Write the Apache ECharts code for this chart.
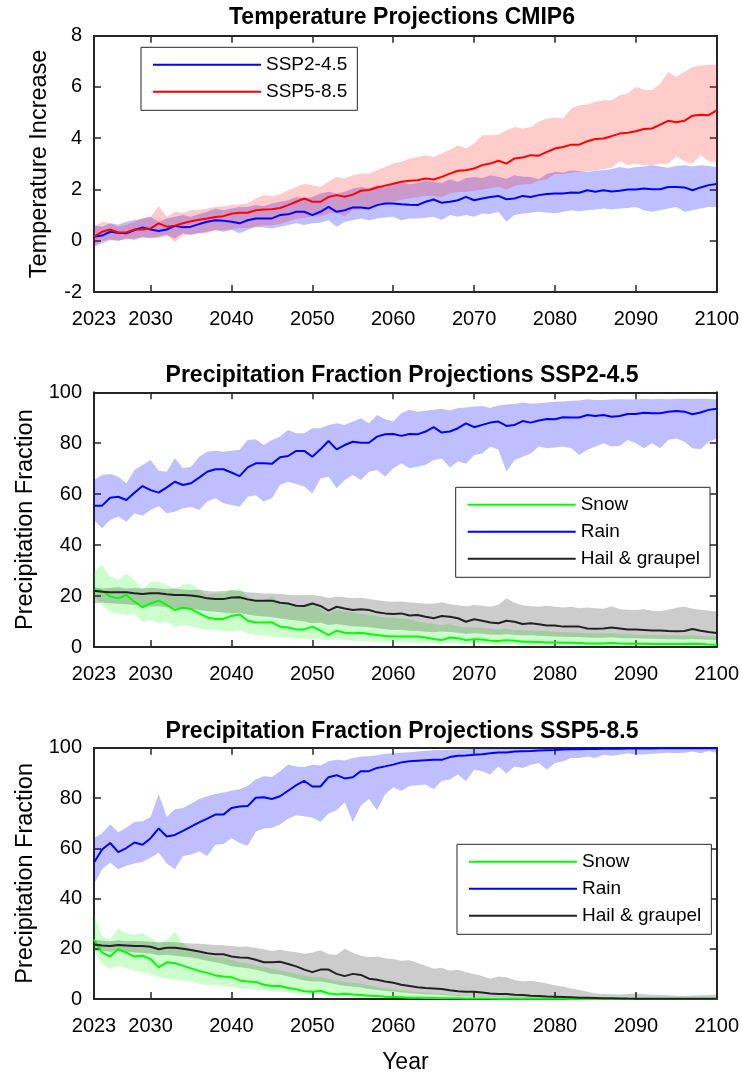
<!DOCTYPE html>
<html>
<head>
<meta charset="utf-8">
<script src="https://cdn.jsdelivr.net/npm/echarts@6/dist/echarts.min.js"></script>
<style>
  html, body { margin: 0; padding: 0; background: #ffffff; }
  #chart { width: 742px; height: 1075px; }
</style>
</head>
<body>
<div id="chart"></div>
<script>
// ---------- categories and tick labels ----------
const years = [];
for (let y = 2023; y <= 2100; y++) years.push(String(y));
const xTickYears = [2023, 2030, 2040, 2050, 2060, 2070, 2080, 2090, 2100];
const tempTicks = [-2, 0, 2, 4, 6, 8];
const fracTicks = [0, 20, 40, 60, 80, 100];

// ---------- Temperature increase (CMIP6 ensemble mean and spread) ----------
const ssp245Mean = [
  0.16, 0.20, 0.35, 0.31, 0.29, 0.42, 0.52, 0.44, 0.38, 0.44,
  0.58, 0.53, 0.55, 0.65, 0.74, 0.80, 0.78, 0.74, 0.68, 0.80,
  0.87, 0.87, 0.87, 1.00, 1.03, 1.13, 1.13, 1.00, 1.13, 1.32,
  1.13, 1.19, 1.30, 1.30, 1.26, 1.39, 1.45, 1.45, 1.42, 1.40,
  1.39, 1.52, 1.61, 1.48, 1.52, 1.58, 1.71, 1.58, 1.65, 1.71,
  1.75, 1.62, 1.65, 1.75, 1.71, 1.78, 1.82, 1.84, 1.84, 1.88,
  1.87, 1.97, 1.91, 1.97, 1.92, 1.95, 2.00, 2.00, 2.04, 2.01,
  2.01, 2.10, 2.10, 2.08, 1.97, 2.08, 2.17, 2.21
];
const ssp245Upper = [
  0.60, 0.55, 0.68, 0.62, 0.74, 0.80, 0.87, 0.94, 0.74, 0.87,
  0.94, 1.00, 0.94, 1.04, 1.13, 1.26, 1.19, 1.26, 1.32, 1.32,
  1.39, 1.35, 1.45, 1.52, 1.58, 1.71, 1.65, 1.71, 1.84, 1.91,
  1.84, 1.91, 2.04, 2.10, 2.04, 2.17, 2.10, 2.23, 2.30, 2.20,
  2.25, 2.35, 2.30, 2.25, 2.40, 2.30, 2.45, 2.49, 2.45, 2.56,
  2.50, 2.42, 2.56, 2.50, 2.49, 2.40, 2.60, 2.69, 2.65, 2.75,
  2.72, 2.68, 2.74, 2.75, 2.80, 2.88, 2.82, 2.88, 2.90, 2.95,
  2.90, 2.85, 2.92, 2.95, 2.90, 2.95, 2.92, 2.88
];
const ssp245Lower = [
  -0.23, -0.10, 0.03, 0.00, 0.09, 0.03, 0.16, 0.09, 0.16, 0.22,
  0.09, 0.29, 0.22, 0.29, 0.35, 0.42, 0.35, 0.42, 0.29, 0.42,
  0.55, 0.52, 0.48, 0.55, 0.61, 0.68, 0.61, 0.68, 0.70, 0.80,
  0.55, 0.74, 0.80, 0.87, 0.80, 0.87, 0.91, 0.94, 0.80, 0.87,
  0.87, 0.90, 0.94, 0.81, 1.00, 0.94, 1.00, 0.94, 1.06, 1.04,
  1.13, 0.74, 1.00, 1.06, 1.09, 1.13, 1.10, 1.06, 1.13, 1.19,
  1.15, 1.19, 1.22, 1.26, 1.22, 1.26, 1.28, 1.32, 1.19, 1.13,
  1.19, 1.26, 1.32, 1.13, 1.19, 1.26, 1.32, 1.32
];
const ssp585Mean = [
  0.16, 0.35, 0.44, 0.32, 0.32, 0.44, 0.44, 0.48, 0.68, 0.55,
  0.59, 0.68, 0.76, 0.82, 0.87, 0.93, 0.96, 1.05, 1.09, 1.09,
  1.19, 1.22, 1.23, 1.28, 1.39, 1.52, 1.65, 1.52, 1.52, 1.71,
  1.78, 1.72, 1.80, 1.95, 1.98, 2.08, 2.15, 2.22, 2.30, 2.34,
  2.36, 2.43, 2.39, 2.49, 2.62, 2.73, 2.75, 2.82, 2.95, 3.01,
  3.12, 3.01, 3.21, 3.25, 3.34, 3.32, 3.47, 3.60, 3.66, 3.75,
  3.75, 3.88, 3.97, 3.99, 4.08, 4.18, 4.21, 4.27, 4.36, 4.38,
  4.53, 4.68, 4.62, 4.68, 4.88, 4.92, 4.90, 5.09
];
const ssp585Upper = [
  0.55, 0.74, 0.68, 0.55, 0.62, 0.74, 0.87, 0.94, 1.35, 0.94,
  1.13, 1.09, 1.20, 1.20, 1.26, 1.32, 1.35, 1.39, 1.42, 1.45,
  1.65, 1.78, 1.75, 1.80, 1.97, 2.10, 2.21, 2.17, 2.10, 2.30,
  2.49, 2.43, 2.56, 2.62, 2.62, 2.75, 2.88, 3.01, 3.08, 3.20,
  3.27, 3.34, 3.27, 3.40, 3.55, 3.73, 3.60, 3.79, 4.12, 4.12,
  4.14, 4.31, 4.44, 4.38, 4.44, 4.64, 4.77, 4.81, 4.77, 5.16,
  5.29, 5.32, 5.42, 5.48, 5.48, 5.68, 5.74, 6.00, 5.90, 5.87,
  6.13, 6.58, 6.39, 6.58, 6.78, 6.84, 6.87, 6.87
];
const ssp585Lower = [
  -0.20, 0.00, 0.05, 0.00, 0.05, 0.10, 0.10, 0.15, 0.10, 0.20,
  -0.05, 0.20, 0.25, 0.30, 0.30, 0.40, 0.40, 0.45, 0.50, 0.50,
  0.55, 0.60, 0.60, 0.65, 0.75, 0.85, 0.90, 0.95, 0.95, 1.05,
  1.10, 0.95, 1.20, 1.25, 1.30, 1.40, 1.45, 1.50, 1.60, 1.65,
  1.70, 1.75, 1.75, 1.70, 1.85, 1.90, 1.90, 1.95, 2.00, 2.05,
  2.10, 2.00, 2.15, 2.20, 2.20, 2.35, 2.40, 2.60, 2.60, 2.65,
  2.70, 2.70, 2.75, 2.80, 2.85, 3.10, 2.95, 3.00, 2.95, 2.95,
  3.00, 3.00, 3.30, 3.10, 3.00, 3.35, 3.10, 3.05
];

// ---------- Precipitation fractions, SSP2-4.5 ----------
const rain245Mean = [
  55.5, 55.5, 58.6, 59.0, 57.7, 60.6, 63.2, 61.6, 60.6, 62.7,
  64.9, 63.6, 64.3, 66.5, 68.8, 69.8, 69.8, 68.5, 67.1, 70.5,
  72.1, 72.1, 71.9, 74.5, 75.0, 77.0, 77.0, 74.7, 77.6, 80.9,
  77.6, 79.3, 80.6, 80.2, 80.2, 82.6, 83.5, 83.6, 82.9, 83.6,
  83.5, 84.6, 86.3, 84.2, 84.6, 85.9, 87.8, 86.3, 87.2, 88.1,
  88.5, 86.8, 87.2, 88.7, 88.1, 88.9, 89.5, 89.4, 90.2, 90.1,
  90.1, 91.1, 90.7, 91.1, 90.4, 90.7, 91.5, 91.5, 92.0, 91.8,
  91.8, 92.4, 92.7, 92.4, 91.4, 92.1, 93.1, 93.5
];
const rain245Upper = [
  65.6, 67.5, 67.9, 66.8, 64.3, 69.5, 71.5, 73.4, 69.2, 68.8,
  74.1, 70.2, 70.8, 74.7, 76.7, 77.1, 76.7, 77.1, 77.4, 81.3,
  81.6, 79.3, 81.3, 82.6, 85.2, 83.9, 83.9, 85.9, 85.9, 87.2,
  87.8, 87.2, 88.5, 89.8, 87.8, 91.1, 89.4, 88.5, 91.8, 93.1,
  92.4, 92.8, 93.1, 93.5, 92.9, 93.8, 94.0, 94.4, 94.6, 93.8,
  94.8, 95.2, 95.4, 96.0, 95.5, 95.7, 96.0, 96.3, 96.4, 96.7,
  96.8, 97.3, 97.0, 97.0, 97.2, 97.3, 97.2, 97.3, 97.4, 97.3,
  97.4, 97.3, 97.4, 97.5, 97.4, 97.5, 97.4, 97.3
];
const rain245Lower = [
  49.9, 46.6, 49.9, 51.2, 49.2, 52.5, 51.5, 53.8, 55.4, 52.5,
  53.1, 54.5, 55.1, 53.8, 57.1, 58.4, 56.4, 55.8, 55.1, 59.0,
  59.6, 57.1, 58.4, 63.6, 64.9, 64.0, 63.0, 60.3, 66.2, 66.8,
  62.3, 65.6, 67.5, 65.6, 68.8, 69.5, 66.9, 70.2, 72.1, 70.2,
  70.8, 71.5, 73.4, 74.0, 70.5, 72.8, 71.9, 75.4, 76.0, 78.7,
  77.4, 68.8, 73.4, 74.7, 76.0, 78.7, 78.0, 78.3, 78.7, 78.0,
  75.4, 77.4, 78.7, 80.0, 78.7, 79.0, 81.3, 80.0, 78.0, 80.0,
  78.0, 81.3, 81.9, 80.6, 78.0, 77.6, 80.6, 81.9
];
const snow245Mean = [
  22.4, 22.1, 19.8, 19.1, 20.4, 17.8, 15.6, 17.1, 18.2, 16.5,
  14.5, 15.4, 14.9, 13.2, 11.6, 11.0, 11.0, 12.2, 12.8, 10.3,
  9.6, 9.6, 9.7, 8.0, 7.7, 6.9, 6.9, 8.0, 6.4, 4.7,
  6.4, 5.6, 5.4, 5.6, 5.1, 4.7, 4.3, 4.1, 4.1, 4.1,
  4.1, 3.7, 3.1, 2.7, 3.7, 3.4, 2.7, 3.0, 2.9, 2.5,
  2.4, 2.7, 2.5, 2.1, 2.1, 2.0, 1.8, 1.8, 1.7, 1.7,
  1.6, 1.4, 1.4, 1.4, 1.6, 1.4, 1.3, 1.3, 1.3, 1.2,
  1.2, 1.2, 1.2, 1.2, 1.3, 1.2, 1.0, 0.9
];
const snow245Upper = [
  29.6, 32.2, 27.6, 26.3, 28.9, 26.3, 22.6, 25.7, 25.7, 24.3,
  23.0, 24.3, 25.0, 22.4, 20.4, 21.1, 21.1, 22.4, 23.0, 19.8,
  18.5, 18.5, 19.8, 17.8, 16.9, 15.8, 15.8, 16.5, 15.2, 13.2,
  14.5, 13.9, 13.5, 13.2, 12.6, 12.2, 11.6, 11.6, 11.2, 11.0,
  10.0, 9.6, 9.0, 8.6, 9.0, 8.0, 7.8, 7.7, 7.6, 7.3,
  6.9, 7.3, 6.7, 6.6, 6.5, 6.4, 6.2, 6.0, 5.9, 5.8,
  5.6, 5.5, 5.4, 5.3, 5.4, 5.1, 5.0, 4.8, 4.8, 4.7,
  4.7, 4.6, 4.6, 4.5, 4.6, 4.3, 4.2, 4.1
];
const snow245Lower = [
  19.8, 16.5, 13.9, 13.2, 12.6, 13.2, 9.9, 10.6, 9.3, 9.9,
  8.0, 8.6, 8.0, 7.3, 6.7, 6.9, 6.4, 6.0, 6.7, 5.4,
  4.7, 4.7, 4.1, 3.9, 3.7, 3.4, 3.3, 3.1, 3.0, 2.6,
  2.9, 2.7, 2.5, 2.4, 2.3, 2.1, 2.0, 1.8, 1.8, 1.7,
  1.6, 1.5, 1.4, 1.4, 1.4, 1.3, 1.2, 1.2, 1.1, 1.1,
  1.0, 1.0, 1.0, 0.9, 0.9, 0.9, 0.9, 0.9, 0.8, 0.8,
  0.8, 0.8, 0.8, 0.7, 0.7, 0.7, 0.7, 0.7, 0.6, 0.6,
  0.6, 0.6, 0.6, 0.5, 0.5, 0.5, 0.5, 0.5
];
const hail245Mean = [
  22.1, 21.7, 21.5, 21.5, 21.5, 21.1, 20.8, 21.1, 21.1, 20.7,
  20.4, 20.4, 20.2, 19.8, 19.1, 18.8, 18.8, 19.4, 19.5, 18.7,
  18.2, 18.2, 18.2, 17.4, 17.1, 16.2, 16.1, 17.1, 16.1, 14.3,
  15.8, 15.1, 14.5, 14.8, 14.5, 13.6, 13.2, 13.0, 13.2, 12.4,
  12.6, 11.9, 11.3, 12.2, 11.9, 11.3, 9.9, 10.9, 10.3, 9.6,
  9.3, 10.3, 9.9, 9.0, 9.3, 8.9, 8.4, 8.4, 8.0, 8.0,
  8.0, 7.3, 7.2, 7.3, 7.7, 7.3, 6.9, 6.9, 6.7, 6.5,
  6.5, 6.3, 6.2, 6.3, 7.1, 6.4, 5.9, 5.5
];
const hail245Upper = [
  23.5, 23.0, 23.2, 23.5, 23.0, 23.2, 23.0, 23.3, 23.0, 22.8,
  23.0, 22.6, 22.4, 22.6, 22.0, 21.8, 22.0, 22.3, 22.0, 21.5,
  21.3, 21.0, 21.0, 20.8, 20.5, 20.3, 20.4, 20.4, 20.0, 19.2,
  19.8, 19.5, 19.1, 19.3, 18.8, 18.4, 18.0, 17.8, 17.9, 17.5,
  17.3, 17.0, 17.1, 17.6, 16.8, 16.4, 16.0, 16.5, 16.2, 15.8,
  16.6, 19.1, 17.4, 16.4, 16.0, 15.8, 16.2, 15.8, 15.5, 15.8,
  15.2, 15.5, 15.2, 15.0, 16.0, 14.8, 14.6, 14.5, 14.8, 14.2,
  14.0, 14.6, 15.4, 15.8, 15.0, 14.6, 14.2, 13.9
];
const hail245Lower = [
  17.1, 17.5, 17.2, 17.0, 16.8, 16.5, 16.2, 15.8, 16.0, 15.6,
  15.3, 15.0, 14.8, 14.5, 14.0, 13.8, 13.5, 13.2, 13.4, 12.8,
  12.3, 12.0, 11.8, 11.2, 10.8, 10.4, 10.0, 9.3, 9.6, 8.6,
  9.0, 8.5, 8.1, 8.0, 7.8, 7.4, 7.0, 6.7, 6.8, 6.4,
  6.3, 6.0, 5.8, 6.1, 5.9, 5.6, 5.2, 5.4, 5.2, 4.9,
  4.8, 5.0, 4.8, 4.5, 4.6, 4.4, 4.2, 4.1, 4.0, 3.9,
  3.9, 3.7, 3.6, 3.6, 3.8, 3.5, 3.4, 3.4, 3.3, 3.2,
  3.1, 3.0, 3.0, 2.9, 3.1, 2.9, 2.8, 2.7
];

// ---------- Precipitation fractions, SSP5-8.5 ----------
const rain585Mean = [
  54.3, 59.5, 62.1, 58.5, 60.1, 62.3, 61.4, 64.0, 67.9, 64.7,
  65.3, 66.9, 68.6, 70.3, 71.8, 73.4, 73.4, 76.0, 76.6, 76.8,
  80.1, 80.3, 79.6, 80.7, 82.9, 85.1, 86.8, 84.6, 84.6, 88.3,
  89.1, 87.8, 88.3, 90.7, 90.7, 92.0, 92.6, 93.3, 94.2, 94.6,
  94.8, 95.0, 95.2, 95.2, 96.3, 96.8, 96.9, 97.2, 97.4, 97.8,
  98.1, 98.1, 98.5, 98.6, 98.7, 98.9, 99.0, 99.1, 99.3, 99.4,
  99.4, 99.5, 99.5, 99.6, 99.6, 99.6, 99.7, 99.7, 99.7, 99.7,
  99.8, 99.8, 99.8, 99.8, 99.8, 99.8, 99.8, 99.8
];
const rain585Upper = [
  64.0, 66.0, 69.5, 66.4, 68.2, 70.5, 70.8, 72.5, 81.6, 72.5,
  75.5, 76.0, 77.7, 79.6, 80.7, 81.6, 82.2, 82.9, 83.5, 84.8,
  87.4, 88.7, 88.4, 90.7, 93.3, 92.6, 92.4, 93.3, 93.0, 94.6,
  95.2, 94.9, 95.9, 96.5, 96.6, 97.0, 97.6, 97.8, 98.0, 98.2,
  98.5, 98.8, 99.0, 99.1, 99.2, 99.3, 99.4, 99.5, 99.6, 99.6,
  99.7, 99.7, 99.8, 99.8, 99.8, 99.9, 99.9, 99.9, 99.9, 100,
  100, 100, 100, 100, 100, 100, 100, 100, 100, 100,
  100, 100, 100, 100, 100, 100, 100, 100
];
const rain585Lower = [
  45.8, 51.7, 54.3, 51.7, 53.0, 53.9, 54.6, 56.2, 58.2, 53.9,
  51.7, 56.9, 57.5, 58.8, 56.9, 61.4, 61.7, 64.0, 62.1, 61.0,
  66.6, 67.9, 68.2, 69.5, 71.8, 73.1, 72.8, 72.3, 70.5, 73.8,
  75.1, 78.3, 70.5, 77.0, 79.6, 75.1, 81.6, 84.2, 82.9, 84.8,
  85.1, 85.4, 83.5, 86.8, 87.4, 89.4, 86.8, 91.3, 90.7, 89.4,
  92.6, 89.8, 92.6, 92.0, 93.3, 93.9, 91.3, 93.9, 94.6, 95.9,
  95.9, 96.5, 95.9, 97.2, 96.8, 97.2, 97.8, 97.2, 97.4, 97.6,
  97.8, 98.0, 97.8, 98.0, 98.5, 97.8, 98.7, 97.9
];
const snow585Mean = [
  23.7, 18.5, 16.9, 19.8, 18.5, 16.9, 17.2, 15.9, 12.6, 14.6,
  14.2, 13.3, 12.2, 11.2, 10.4, 9.4, 9.0, 8.7, 7.4, 7.0,
  6.8, 5.7, 5.2, 5.2, 4.4, 3.9, 3.1, 2.9, 3.3, 2.2,
  1.8, 2.1, 1.8, 1.6, 1.3, 1.2, 0.9, 0.8, 0.65, 0.5,
  0.45, 0.4, 0.35, 0.3, 0.28, 0.25, 0.22, 0.2, 0.18, 0.15,
  0.13, 0.12, 0.1, 0.09, 0.08, 0.07, 0.06, 0.05, 0.05, 0.04,
  0.04, 0.03, 0.03, 0.03, 0.02, 0.02, 0.02, 0.02, 0.02, 0.01,
  0.01, 0.01, 0.01, 0.01, 0.01, 0.01, 0.01, 0.01
];
const snow585Upper = [
  33.4, 25.0, 23.7, 28.2, 26.3, 25.6, 26.3, 24.3, 22.4, 23.4,
  26.9, 22.4, 19.8, 18.5, 17.2, 16.6, 16.6, 15.6, 14.6, 14.0,
  13.3, 12.7, 12.0, 11.4, 10.7, 10.1, 9.4, 8.7, 8.7, 8.1,
  7.4, 6.8, 6.5, 6.1, 5.5, 4.8, 4.2, 3.9, 3.5, 3.1,
  2.8, 2.5, 2.2, 2.0, 1.8, 1.6, 1.4, 1.2, 1.1, 1.0,
  0.9, 0.8, 0.7, 0.6, 0.5, 0.45, 0.4, 0.35, 0.3, 0.25,
  0.2, 0.2, 0.15, 0.15, 0.1, 0.1, 0.1, 0.08, 0.08, 0.06,
  0.06, 0.05, 0.05, 0.04, 0.04, 0.03, 0.03, 0.03
];
const snow585Lower = [
  19.1, 13.9, 12.0, 13.3, 12.3, 11.3, 10.7, 10.0, 8.7, 8.1,
  7.8, 7.4, 7.0, 6.1, 5.7, 5.5, 5.1, 4.8, 4.4, 4.2,
  3.8, 3.5, 3.1, 2.9, 2.6, 2.2, 2.0, 1.8, 1.8, 1.6,
  1.3, 1.1, 0.9, 0.9, 0.8, 0.6, 0.55, 0.5, 0.4, 0.35,
  0.3, 0.25, 0.2, 0.18, 0.15, 0.12, 0.1, 0.08, 0.07, 0.06,
  0.05, 0.04, 0.03, 0.03, 0.02, 0.02, 0.02, 0.01, 0.01, 0.01,
  0, 0, 0, 0, 0, 0, 0, 0, 0, 0,
  0, 0, 0, 0, 0, 0, 0, 0
];
const hail585Mean = [
  21.7, 21.3, 21.1, 21.5, 21.3, 21.1, 21.1, 20.8, 19.8, 20.4,
  20.4, 20.0, 19.5, 18.9, 18.2, 17.8, 17.8, 16.9, 16.5, 16.4,
  15.6, 14.6, 14.6, 14.8, 13.9, 13.0, 11.7, 10.7, 11.7, 11.7,
  10.0, 9.1, 10.0, 9.6, 8.1, 7.7, 7.0, 6.5, 5.7, 5.2,
  4.7, 4.4, 4.2, 4.0, 3.5, 3.1, 2.9, 2.9, 2.6, 2.2,
  2.0, 2.0, 1.7, 1.6, 1.3, 1.2, 1.0, 0.9, 0.8, 0.65,
  0.5, 0.5, 0.4, 0.3, 0.25, 0.2, 0.15, 0.12, 0.1, 0.1,
  0.08, 0.08, 0.07, 0.06, 0.06, 0.05, 0.05, 0.05
];
const hail585Upper = [
  23.7, 23.2, 23.0, 23.4, 23.0, 23.2, 23.0, 22.8, 22.5, 22.8,
  22.6, 22.3, 22.1, 22.0, 21.8, 21.5, 21.4, 21.1, 20.8, 20.9,
  20.3, 19.8, 19.1, 19.6, 19.0, 18.6, 18.0, 18.5, 19.4, 17.8,
  17.6, 20.0, 18.4, 17.2, 16.6, 16.9, 16.2, 15.9, 15.2, 15.4,
  14.3, 13.2, 12.0, 12.4, 11.2, 11.6, 10.6, 10.0, 9.2, 8.1,
  9.0, 8.7, 7.6, 7.0, 7.3, 6.8, 6.2, 5.5, 4.9, 4.2,
  3.6, 2.9, 2.2, 2.0, 1.9, 1.8, 2.0, 2.2, 1.9, 1.7,
  1.6, 1.5, 1.3, 1.2, 1.4, 1.5, 1.6, 1.8
];
const hail585Lower = [
  19.0, 19.2, 18.8, 19.0, 18.7, 18.5, 18.3, 18.0, 17.4, 17.6,
  17.2, 16.8, 16.5, 15.9, 15.2, 14.6, 14.0, 13.0, 12.6, 12.2,
  11.6, 10.8, 10.0, 9.8, 9.0, 8.2, 7.4, 7.0, 7.0, 6.5,
  5.8, 5.2, 5.0, 4.6, 4.0, 3.6, 3.2, 3.0, 2.6, 2.3,
  2.1, 1.9, 1.8, 1.6, 1.4, 1.2, 1.1, 1.0, 0.9, 0.8,
  0.7, 0.6, 0.5, 0.45, 0.4, 0.3, 0.25, 0.2, 0.15, 0.12,
  0.1, 0.08, 0.05, 0.04, 0.03, 0.03, 0.02, 0.02, 0.02, 0.02,
  0.02, 0.01, 0.01, 0.01, 0.01, 0.01, 0.01, 0.01
];

// ---------- styling ----------
const FONT = "'Liberation Sans', Arial, Helvetica, sans-serif";
const AXIS_COLOR = '#262626';
const TEXT_COLOR = '#000000';
const BLUE = '#0000ff', RED = '#ff0000', GREEN = '#00ff00', BLACK = '#222222';

const gridBoxes = [
  { left: 94, top: 35.7, width: 623.5, height: 256.3 },
  { left: 94, top: 392.3, width: 623.5, height: 254.7 },
  { left: 94, top: 747.8, width: 623.5, height: 256.2 }
];

function isTickYear(idx, value) {
  return xTickYears.indexOf(Number(value)) >= 0;
}

const axisLineStyle = { color: AXIS_COLOR, width: 2 };
const tickStyle = { color: AXIS_COLOR, width: 1.5 };

function xAxesFor(gi, name) {
  const common = {
    type: 'category', gridIndex: gi, data: years, boundaryGap: false,
    axisLine: { show: true, onZero: false, lineStyle: axisLineStyle },
    axisTick: { show: true, inside: true, length: 7, interval: isTickYear, lineStyle: tickStyle },
    splitLine: { show: false }
  };
  const bottom = Object.assign({}, common, {
    position: 'bottom',
    axisLabel: { show: true, interval: isTickYear, margin: 17, fontSize: 20, color: TEXT_COLOR, fontFamily: FONT }
  });
  if (name) {
    Object.assign(bottom, {
      name: name, nameLocation: 'middle', nameGap: 52,
      nameTextStyle: { fontSize: 23, color: TEXT_COLOR, fontFamily: FONT }
    });
  }
  const top = Object.assign({}, common, { position: 'top', axisLabel: { show: false } });
  return [bottom, top];
}

function yAxesFor(gi, ticks, name, nameGap) {
  const common = {
    type: 'value', gridIndex: gi,
    min: ticks[0], max: ticks[ticks.length - 1], interval: ticks[1] - ticks[0],
    axisLine: { show: true, onZero: false, lineStyle: axisLineStyle },
    axisTick: { show: true, inside: true, length: 7, lineStyle: tickStyle },
    splitLine: { show: false }
  };
  const left = Object.assign({}, common, {
    position: 'left',
    name: name, nameLocation: 'middle', nameGap: nameGap,
    nameTextStyle: { fontSize: 23.5, color: TEXT_COLOR, fontFamily: FONT },
    axisLabel: { show: true, margin: 12, fontSize: 20, color: TEXT_COLOR, fontFamily: FONT }
  });
  const right = Object.assign({}, common, { position: 'right', axisLabel: { show: false } });
  return [left, right];
}

// a shaded spread: invisible lower edge plus a stacked (upper - lower) area
function bandSeries(key, gi, lower, upper, rgb, alpha) {
  const width = upper.map((u, i) => +(u - lower[i]).toFixed(3));
  const base = {
    type: 'line', xAxisIndex: gi * 2, yAxisIndex: gi * 2,
    stack: key, stackStrategy: 'all', symbol: 'none', silent: true,
    lineStyle: { width: 0, opacity: 0 }, emphasis: { disabled: true }, z: 1
  };
  return [
    Object.assign({}, base, { name: key + ' low', data: lower }),
    Object.assign({}, base, {
      name: key + ' span', data: width,
      areaStyle: { color: rgb, opacity: alpha }
    })
  ];
}

function meanSeries(name, gi, data, color) {
  return {
    type: 'line', name: name, xAxisIndex: gi * 2, yAxisIndex: gi * 2,
    data: data, symbol: 'none', smooth: false, z: 3,
    lineStyle: { color: color, width: 2 }, itemStyle: { color: color },
    emphasis: { disabled: true }
  };
}

function titleFor(text, top) {
  return {
    text: text, left: 402, top: top, textAlign: 'center', padding: 0,
    textStyle: { fontSize: 23, fontWeight: 'bold', color: TEXT_COLOR, fontFamily: FONT }
  };
}

function legendFor(names, left, top) {
  return {
    data: names, orient: 'vertical', left: left, top: top,
    itemWidth: 108, itemHeight: 14, itemGap: 8,
    padding: [8, 10, 9, 11],
    backgroundColor: '#ffffff', borderColor: AXIS_COLOR, borderWidth: 1, borderRadius: 0,
    selectedMode: false,
    itemStyle: { opacity: 0 },
    lineStyle: { width: 2 },
    textStyle: { fontSize: 19, lineHeight: 19, color: TEXT_COLOR, fontFamily: FONT }
  };
}

const series = [].concat(
  bandSeries('t245', 0, ssp245Lower, ssp245Upper, 'rgb(0,0,255)', 0.25),
  bandSeries('t585', 0, ssp585Lower, ssp585Upper, 'rgb(255,0,0)', 0.2),
  [meanSeries('SSP2-4.5', 0, ssp245Mean, BLUE), meanSeries('SSP5-8.5', 0, ssp585Mean, RED)],

  bandSeries('s245', 1, snow245Lower, snow245Upper, 'rgb(0,255,0)', 0.2),
  bandSeries('r245', 1, rain245Lower, rain245Upper, 'rgb(0,0,255)', 0.25),
  bandSeries('h245', 1, hail245Lower, hail245Upper, 'rgb(0,0,0)', 0.2),
  [meanSeries('Snow', 1, snow245Mean, GREEN), meanSeries('Rain', 1, rain245Mean, BLUE),
   meanSeries('Hail & graupel', 1, hail245Mean, BLACK)],

  bandSeries('s585', 2, snow585Lower, snow585Upper, 'rgb(0,255,0)', 0.2),
  bandSeries('r585', 2, rain585Lower, rain585Upper, 'rgb(0,0,255)', 0.25),
  bandSeries('h585', 2, hail585Lower, hail585Upper, 'rgb(0,0,0)', 0.2),
  [meanSeries('Snow', 2, snow585Mean, GREEN), meanSeries('Rain', 2, rain585Mean, BLUE),
   meanSeries('Hail & graupel', 2, hail585Mean, BLACK)]
);

const option = {
  animation: false,
  backgroundColor: '#ffffff',
  textStyle: { fontFamily: FONT },
  title: [
    titleFor('Temperature Projections CMIP6', 6.5),
    titleFor('Precipitation Fraction Projections SSP2-4.5', 364),
    titleFor('Precipitation Fraction Projections SSP5-8.5', 720)
  ],
  legend: [
    legendFor(['SSP2-4.5', 'SSP5-8.5'], 141, 47.3),
    legendFor(['Snow', 'Rain', 'Hail & graupel'], 455.7, 487.3),
    legendFor(['Snow', 'Rain', 'Hail & graupel'], 457, 844.3)
  ],
  grid: gridBoxes.map(b => Object.assign({ containLabel: false, show: false }, b)),
  xAxis: [].concat(xAxesFor(0), xAxesFor(1), xAxesFor(2, 'Year')),
  yAxis: [].concat(
    yAxesFor(0, tempTicks, 'Temperature Increase', 42),
    yAxesFor(1, fracTicks, 'Precipitation Fraction', 55),
    yAxesFor(2, fracTicks, 'Precipitation Fraction', 55)
  ),
  series: series
};

const chart = echarts.init(document.getElementById('chart'), null, { renderer: 'canvas' });
chart.setOption(option);
</script>
</body>
</html>
